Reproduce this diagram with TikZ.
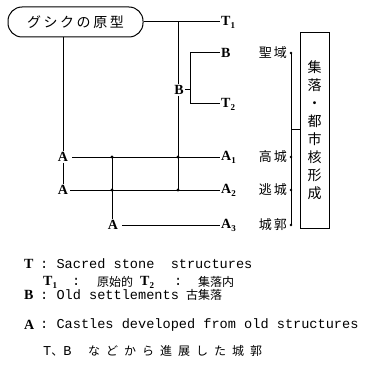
\documentclass[tikz,border=0pt]{standalone}
\usepackage{fontspec}
\setmainfont{Liberation Serif}
\setmonofont{Liberation Mono}
\newfontfamily\cjk{Noto Sans CJK JP}
\newfontfamily\cjkA[LetterSpace=18]{Noto Sans CJK JP}
\newfontfamily\cjkB[LetterSpace=15]{Noto Sans CJK JP}
\newfontfamily\cjkC[LetterSpace=50]{Noto Sans CJK JP}
\newcommand\mysub[1]{\raisebox{-0.45ex}{\fontsize{9}{9}\selectfont #1}}
\begin{document}
\begin{tikzpicture}[x=1pt,y=-1pt,
  line/.style={line width=1pt},
  lab/.style={font=\bfseries\fontsize{14}{14}\selectfont, inner sep=1pt},
  jpr/.style={font=\cjkB\fontsize{13}{13}\selectfont, inner sep=0pt, anchor=east},
  dot/.style={circle, fill, inner sep=0pt, minimum size=3.4pt},
  sdot/.style={circle, fill, inner sep=0pt, minimum size=2.6pt},
  leg/.style={font=\ttfamily\fontsize{13.6}{13.6}\selectfont, anchor=west, inner sep=0pt},
  legl/.style={font=\bfseries\fontsize{14}{14}\selectfont, anchor=west, inner sep=0pt},
  legj/.style={font=\cjk\fontsize{12}{12}\selectfont, anchor=west, inner sep=0pt},
]
\useasboundingbox (0,0) rectangle (364,385);

% top box
\node[draw, line width=1pt, rounded corners=14pt, minimum width=135pt, minimum height=30pt,
      inner sep=0pt, font=\cjkA\fontsize{14}{14}\selectfont] (proto) at (75.5,22) {グシクの原型};

\node[lab, anchor=west] (T1) at (220,22) {T\mysub{1}};
\coordinate (j1) at (178,22);
\draw[line] (proto.east) -- (T1.west);

% B branch
\node[lab] (Bm) at (179,90) {B};
\coordinate (j2) at (178,157);
\coordinate (j3) at (178,190);
\draw[line] (j1) -- (j1 |- Bm.north);
\draw[line] (j1 |- Bm.south) -- (j3);
\coordinate (bk1) at (190,53);
\coordinate (bk2) at (190,104);
\node[lab, anchor=west] (Bt) at (220,53) {B};
\node[lab, anchor=west] (T2) at (220,104) {T\mysub{2}};
\draw[line] (Bm.east) -- (Bm.east -| bk1);
\draw[line] (Bt.west) -- (bk1) -- (bk2) -- (T2.west);

% A rows
\node[lab] (Aa) at (63,157) {A};
\node[lab] (Ab) at (63,190) {A};
\node[lab] (Ac) at (113,225) {A};
\node[lab, anchor=west] (A1) at (220,157) {A\mysub{1}};
\node[lab, anchor=west] (A2) at (220,190) {A\mysub{2}};
\node[lab, anchor=west] (A3) at (220,225) {A\mysub{3}};
\draw[line] (Aa.north |- proto.south) -- (Aa.north);
\draw[line] (Aa.south) -- (Ab.north);
\draw[line, shorten <=3pt] (Aa.east) -- (A1.west);
\draw[line, shorten <=1pt] (Ab.east) -- (A2.west);
\draw[line, shorten <=3pt] (Ac.east) -- (A3.west);
\coordinate (k1) at (112,157);
\coordinate (k2) at (112,190);
\draw[line] (k1) -- (k1 |- Ac.north);
\node[dot] (d1) at (k1) {};
\node[dot] (d2) at (k2) {};
\node[dot] (d3) at (j2) {};
\node[dot] (d4) at (j3) {};

% right labels
\node[jpr] (s1) at (287,53) {聖域};
\node[jpr] (s2) at (287,157) {高城};
\node[jpr] (s3) at (287,190) {逃城};
\node[jpr] (s4) at (287,225) {城郭};
\coordinate (r1) at (291,53);
\coordinate (r2) at (291,157);
\coordinate (r3) at (291,190);
\coordinate (r4) at (291,225);
\coordinate (rm) at (291,129);
\draw[line] (r1) -- (r4);
\node[sdot] (e1) at (r1) {};
\node[sdot] (e2) at (r2) {};
\node[sdot] (e3) at (r3) {};
\node[sdot] (e4) at (r4) {};

% vertical box
\node[draw, line width=1pt, minimum width=29pt, minimum height=195pt, inner sep=0pt,
      align=center, font=\cjk\fontsize{14}{18}\selectfont] (box) at (314.5,130.5)
      {集\\落\\・\\都\\市\\核\\形\\成};
\draw[line] (rm) -- (box.west |- rm);

% legend
\node[legl] (L1a) at (24,264) {T};
\node[leg] (L1b) at (40,264) {: Sacred stone\ \ structures};
\node[legl] (L2a) at (43,282) {T\mysub{1}};
\node[leg] (L2b) at (72,282) {:};
\node[legj] (L2c) at (97,282) {原始的};
\node[legl] (L2d) at (140,282) {T\mysub{2}};
\node[leg] (L2e) at (174,282) {:};
\node[legj] (L2f) at (198,282) {集落内};
\node[legl] (L3a) at (24,295) {B};
\node[leg] (L3b) at (40,295) {: Old settlements};
\node[legj] (L3c) at (186,295) {古集落};
\node[legl] (L4a) at (24,325) {A};
\node[leg] (L4b) at (40,325) {: Castles developed from old structures};
\node[leg] (L5a) at (43,351) {T{\cjk\fontsize{12}{12}\selectfont 、}B};
\node[legj, font=\cjkC\fontsize{12}{12}\selectfont] (L5b) at (88,351) {などから進展した城郭};
\end{tikzpicture}
\end{document}
